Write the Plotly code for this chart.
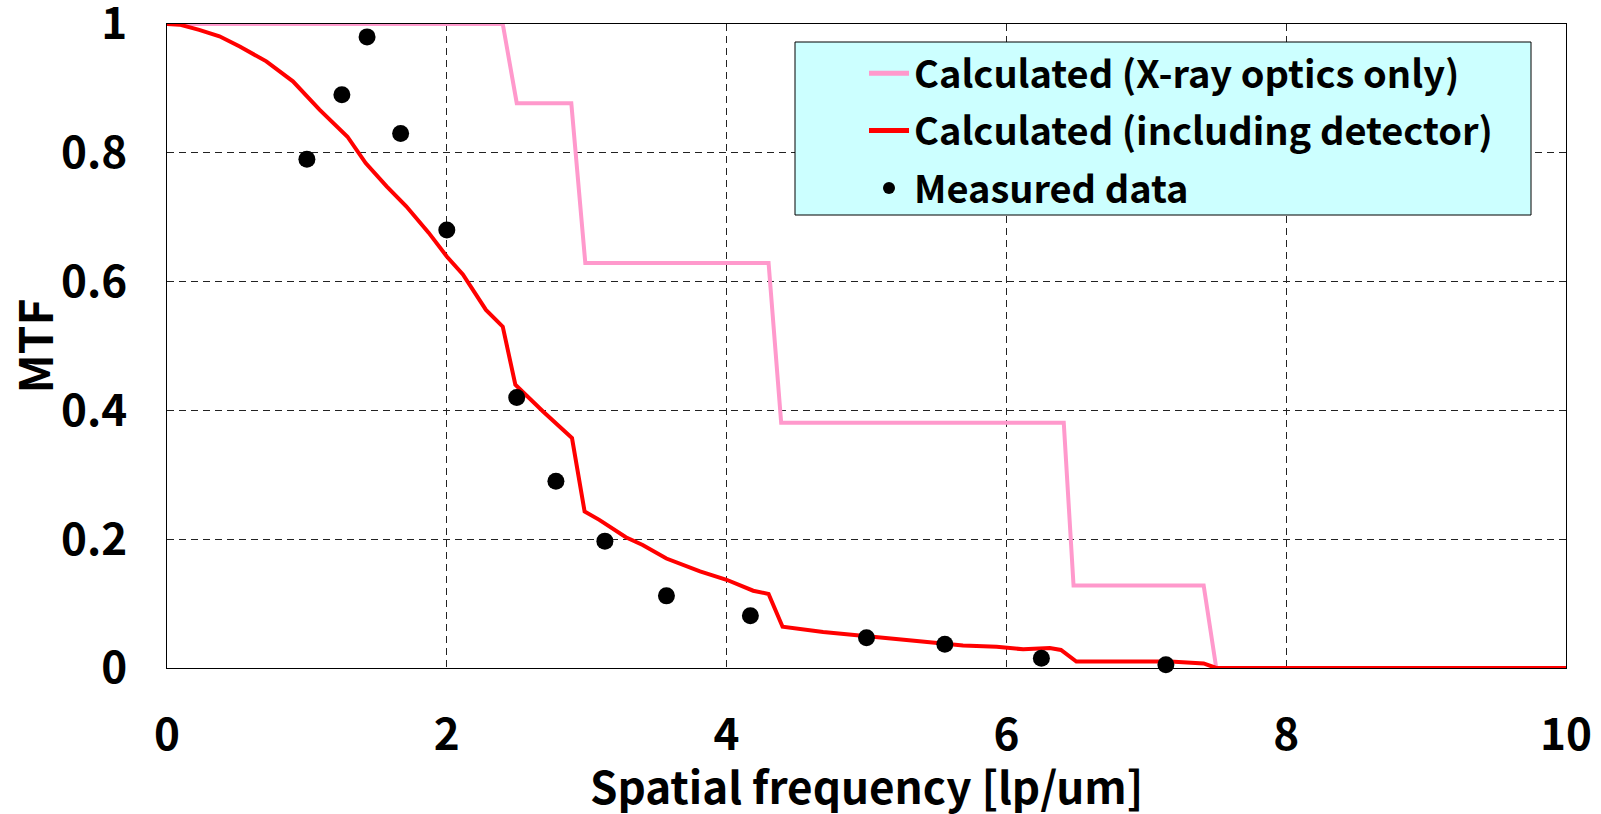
import plotly.graph_objects as go

# X-ray optics only (pink step curve)
optics_x = [0, 2.40, 2.50, 2.89, 2.99, 4.30, 4.39, 6.41, 6.48, 7.41, 7.50, 10.0]
optics_y = [1.0, 1.0, 0.877, 0.877, 0.629, 0.629, 0.381, 0.381, 0.128, 0.128, 0.0, 0.0]

# Including detector (red curve)
det_x = [0, 0.09, 0.23, 0.375, 0.52, 0.71, 0.90, 1.09, 1.29, 1.42, 1.57, 1.71, 1.87, 2.00,
         2.115, 2.28, 2.40, 2.49, 2.69, 2.895, 2.985, 3.09, 3.28, 3.40, 3.57, 3.81, 4.00,
         4.19, 4.30, 4.40, 4.69, 5.00, 5.21, 5.36, 5.69, 5.93, 6.12, 6.31, 6.39, 6.50,
         7.17, 7.41, 7.50, 10.0]
det_y = [1.0, 0.999, 0.991, 0.981, 0.965, 0.942, 0.911, 0.867, 0.825, 0.784, 0.748, 0.717,
         0.676, 0.639, 0.611, 0.556, 0.530, 0.440, 0.398, 0.357, 0.243, 0.230, 0.203, 0.191,
         0.170, 0.150, 0.137, 0.120, 0.115, 0.064, 0.056, 0.049, 0.044, 0.042, 0.035, 0.033,
         0.029, 0.031, 0.028, 0.010, 0.010, 0.007, 0.0, 0.0]

# Measured data
meas_x = [1.0, 1.25, 1.43, 1.67, 2.0, 2.5, 2.78, 3.13, 3.57, 4.17, 5.0, 5.56, 6.25, 7.14]
meas_y = [0.79, 0.89, 0.98, 0.83, 0.68, 0.42, 0.29, 0.197, 0.112, 0.081, 0.047, 0.037, 0.015, 0.005]

x_ticks = [0, 2, 4, 6, 8, 10]
y_ticks = [0, 0.2, 0.4, 0.6, 0.8, 1]
y_tick_labels = ["0", "0.2", "0.4", "0.6", "0.8", "1"]

x_title = "Spatial frequency [lp/um]"
y_title = "MTF"

FONT = "Noto Sans CJK JP, Noto Sans, sans-serif"

fig = go.Figure()
fig.add_trace(go.Scatter(x=optics_x, y=optics_y, mode="lines", name="Calculated (X-ray optics only)",
                         line=dict(color="#FF99CC", width=4), legendgroup="a", cliponaxis=False))
fig.add_trace(go.Scatter(x=det_x, y=det_y, mode="lines", name="Calculated (including detector)",
                         line=dict(color="#FF0000", width=4), legendgroup="b", cliponaxis=False))
fig.add_trace(go.Scatter(x=meas_x, y=meas_y, mode="markers", name="Measured data",
                         marker=dict(color="black", size=17), legendgroup="c", cliponaxis=False))

# legend box
fig.add_shape(type="rect", xref="paper", yref="paper",
              x0=(795 - 167) / 1399, x1=(1531 - 167) / 1399,
              y0=(668 - 215) / 644, y1=(668 - 42) / 644,
              fillcolor="#CCFFFF", line=dict(color="black", width=1), layer="above")

# x-axis title as annotation (placed below tick labels)
fig.add_annotation(text=x_title, xref="paper", yref="paper", x=0.5, y=0,
                   xanchor="center", yanchor="middle", yshift=-117, showarrow=False,
                   font=dict(family=FONT, size=44, weight="bold", color="black"))

grid = dict(showgrid=True, gridcolor="#222222", griddash="7px,5px", gridwidth=1)

fig.update_layout(
    width=1601, height=814,
    margin=dict(l=167, r=35, t=24, b=146, autoexpand=False),
    paper_bgcolor="white", plot_bgcolor="white",
    font=dict(family=FONT, color="black", size=36, weight="bold"),
    showlegend=True,
    legend=dict(x=(864 - 167) / 1399, y=(668 - 42) / 644, xanchor="left", yanchor="top",
                bgcolor="rgba(0,0,0,0)", borderwidth=0, tracegroupgap=5, itemwidth=40,
                font=dict(family=FONT, size=38, color="black", weight="bold"),
                itemsizing="constant"),
    xaxis=dict(range=[0, 10], tickvals=x_ticks, ticks="", showline=True, linecolor="black",
               linewidth=1, mirror=True, zeroline=False, automargin=False,
               tickfont=dict(size=44, weight="bold"),
               ticklabelstandoff=28, ticklabeloverflow="allow",
               **grid),
    yaxis=dict(range=[0, 1], tickvals=y_ticks, ticktext=y_tick_labels, ticks="", showline=True,
               linecolor="black", linewidth=1, mirror=True, zeroline=False, automargin=False,
               tickfont=dict(size=44, weight="bold"), ticklabelstandoff=30,
               ticklabeloverflow="allow",
               title=dict(text=y_title, font=dict(size=46, weight="bold"), standoff=6),
               **grid),
)

fig.write_html("out.html")
